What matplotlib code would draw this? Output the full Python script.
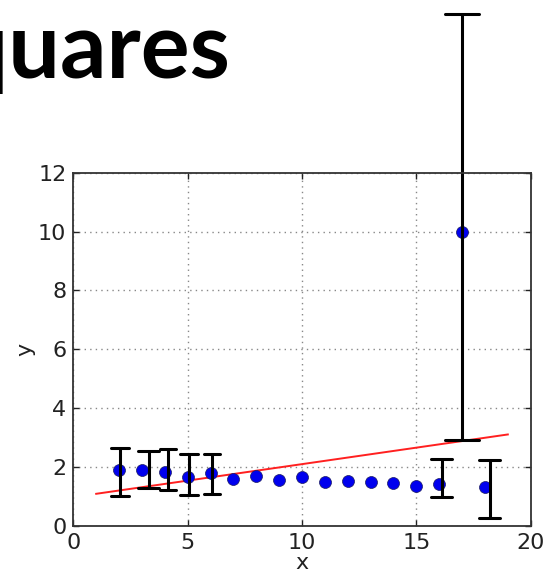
import numpy as np
import matplotlib.pyplot as plt

# data points
x = [2, 3, 4, 5, 6, 7, 8, 9, 10, 11, 12, 13, 14, 15, 16, 17, 18]
y = [1.91, 1.91, 1.83, 1.64, 1.80, 1.59, 1.69, 1.56, 1.64, 1.47, 1.52, 1.50,
     1.46, 1.35, 1.41, 10.0, 1.30]

# hand-drawn residual brackets: x position, bottom, top, cap half-width
br_x = [2.05, 3.3, 4.15, 5.05, 6.05, 16.1, 18.2, 17.0]
br_lo = [1.02, 1.27, 1.21, 1.04, 1.08, 0.98, 0.25, 2.90]
br_hi = [2.64, 2.55, 2.62, 2.45, 2.45, 2.28, 2.23, 17.4]
br_cap = [0.4, 0.45, 0.35, 0.4, 0.35, 0.45, 0.45, 0.75]

fig = plt.figure(figsize=(5.51, 5.75), dpi=100)
fig.text(231 / 551, 1 - 78 / 575, "Squares", ha="right", va="baseline",
         fontsize=66, fontweight="bold", family="Lato")

ax = fig.add_axes([73.3 / 551, 49.3 / 575, 457.4 / 551, 353 / 575])

# least squares line
coef = np.polyfit(x, y, 1)
xf = np.array([1, 19])
ax.plot(xf, np.polyval(coef, xf), color="#ff2020", lw=1.4)
ax.plot(x, y, "o", color="#0000ee", ms=8.6, mec="#1a1a60", mew=0.5)

for bx, lo, hi, c in zip(br_x, br_lo, br_hi, br_cap):
    ax.plot([bx - c, bx + c], [hi, hi], color="black", lw=2.2,
            solid_capstyle="round", clip_on=False)
    ax.plot([bx, bx], [lo, hi], color="black", lw=2.2,
            solid_capstyle="round", clip_on=False)
    ax.plot([bx - c, bx + c], [lo, lo], color="black", lw=2.2,
            solid_capstyle="round", clip_on=False)

ax.set_xlim(0, 20)
ax.set_ylim(0, 12)
ax.set_xticks([0, 5, 10, 15, 20])
ax.set_yticks([0, 2, 4, 6, 8, 10, 12])
ax.grid(True, color="#888888", linestyle=(0, (1, 3)), lw=1.0)
ax.tick_params(direction="in", top=True, right=True, length=4,
               labelsize=16, colors="#222222", pad=5, width=1)
for s in ax.spines.values():
    s.set_linewidth(1.3)
    s.set_color("#333333")
ax.set_xlabel("x", fontsize=16, color="#222222", labelpad=0)
ax.set_ylabel("y", fontsize=16, color="#222222", labelpad=2)

fig.savefig("out.png", dpi=100)
